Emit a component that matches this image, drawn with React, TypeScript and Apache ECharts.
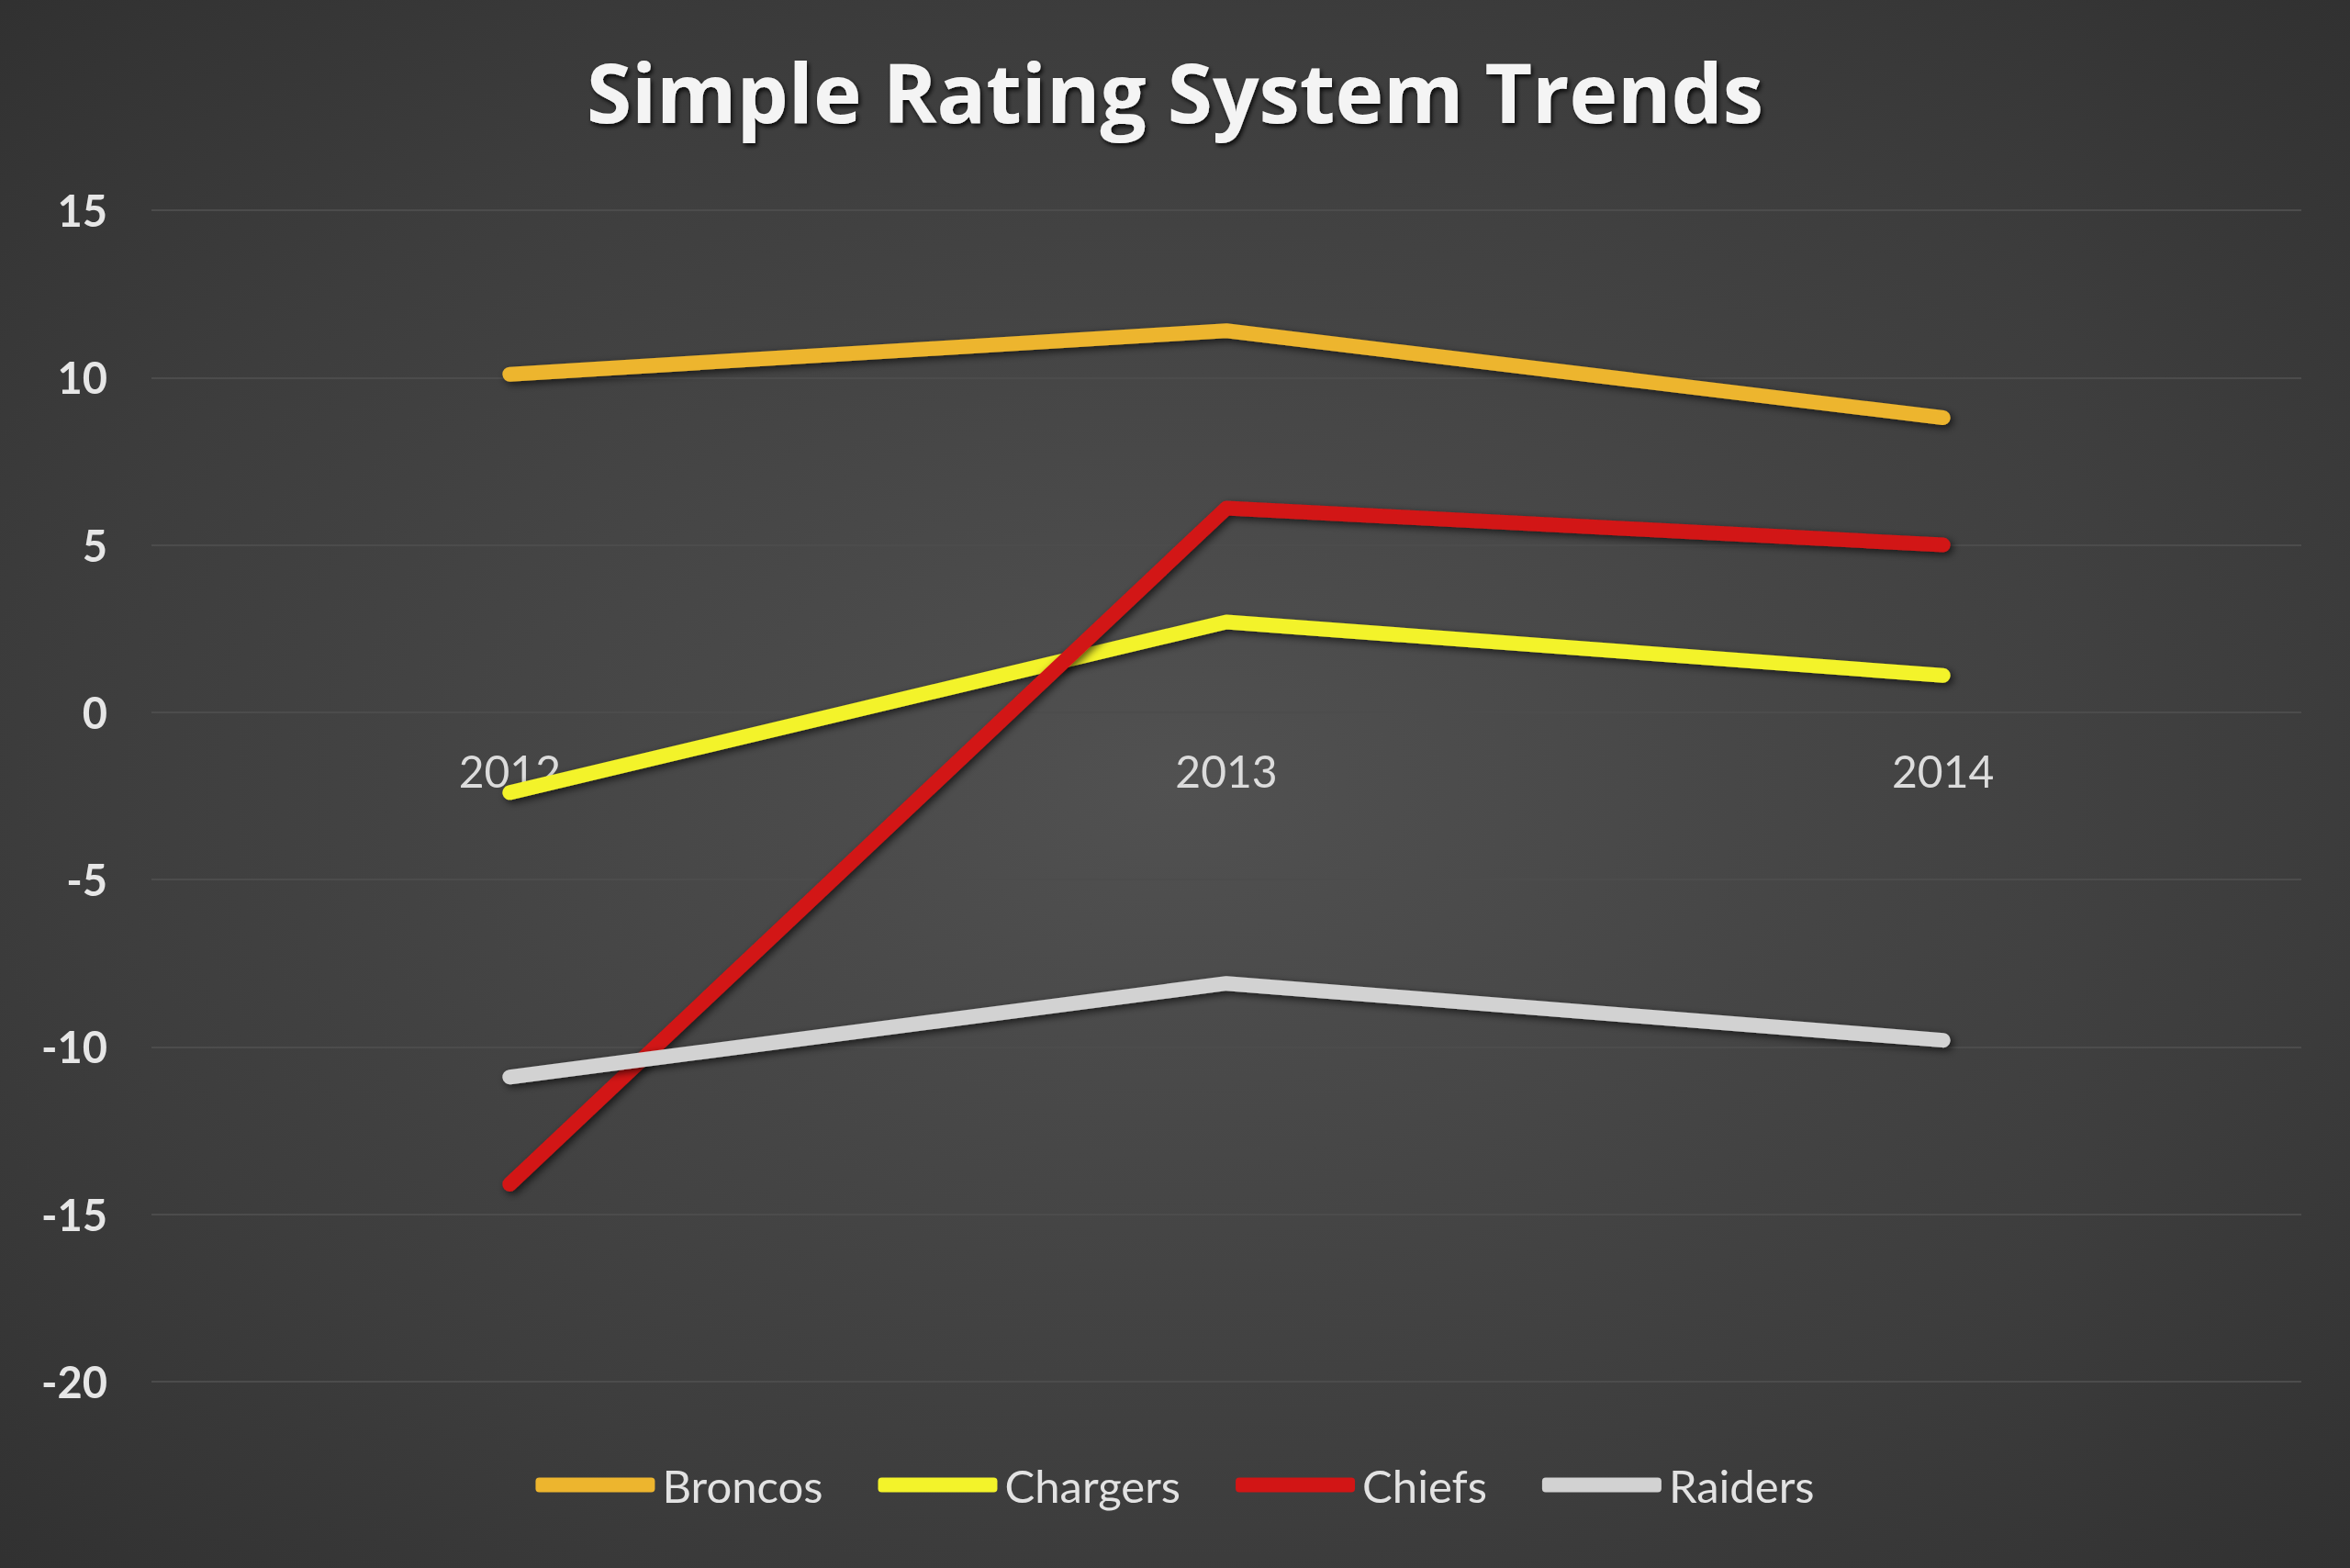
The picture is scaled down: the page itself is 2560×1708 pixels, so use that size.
import React, { useEffect, useRef } from "react";
import * as echarts from "echarts";

const years = ["2012", "2013", "2014"];
const broncos = [10.1, 11.4, 8.8];
const chargers = [-2.4, 2.7, 1.1];
const chiefs = [-14.1, 6.1, 5.0];
const raiders = [-10.9, -8.1, -9.8];

const seriesNames = ["Broncos", "Chargers", "Chiefs", "Raiders"];
const seriesColors = ["#EDB52E", "#F3F32A", "#D21515", "#D2D2D2"];
const seriesValues = [broncos, chargers, chiefs, raiders];

const yMin = -20;
const yMax = 15;
const yInterval = 5;

export default function App() {
  const ref = useRef<HTMLDivElement>(null);
  useEffect(() => {
    if (!ref.current) return;
    const chart = echarts.init(ref.current, null, { renderer: "svg" });
    const labelFont = "Lato, 'Open Sans', sans-serif";
    chart.setOption({
      animation: false,
      backgroundColor: {
        type: "radial",
        x: 0.5,
        y: 0.5,
        r: 0.95,
        colorStops: [
          { offset: 0, color: "#515151" },
          { offset: 0.5, color: "#3d3d3d" },
          { offset: 1, color: "#242424" },
        ],
      },
      title: {
        text: "Simple Rating System Trends",
        left: "center",
        top: 50,
        textStyle: {
          color: "#f4f4f4",
          fontSize: 89,
          fontWeight: "bold",
          fontFamily: "'Open Sans', 'DejaVu Sans', sans-serif",
          textShadowColor: "rgba(0,0,0,0.85)",
          textShadowBlur: 5,
          textShadowOffsetX: 2,
          textShadowOffsetY: 3,
        },
      },
      grid: {
        left: 165,
        right: 53,
        top: 229,
        bottom: 203,
        containLabel: false,
      },
      legend: {
        data: seriesNames,
        left: "center",
        top: 1588,
        itemWidth: 130,
        itemHeight: 16,
        itemGap: 60,
        icon: "roundRect",
        textStyle: {
          color: "#e2e2e2",
          fontSize: 49,
          fontFamily: labelFont,
          padding: [0, 0, 0, 3],
        },
      },
      xAxis: {
        type: "category",
        data: years,
        boundaryGap: true,
        axisLine: { show: false, onZero: false },
        axisTick: { show: false },
        axisLabel: {
          color: "#dcdcdc",
          fontSize: 48,
          fontFamily: labelFont,
          margin: 40,
        },
        splitLine: { show: false },
      },
      yAxis: {
        type: "value",
        min: yMin,
        max: yMax,
        interval: yInterval,
        axisLine: { show: false },
        axisTick: { show: false },
        axisLabel: {
          color: "#e6e6e6",
          fontSize: 47,
          fontWeight: "bold",
          fontFamily: labelFont,
          margin: 48,
        },
        splitLine: { lineStyle: { color: "#4c4c4c", width: 2 } },
      },
      series: seriesNames.map((name, i) => ({
        name,
        type: "line",
        data: seriesValues[i],
        showSymbol: false,
        symbol: "none",
        color: seriesColors[i],
        lineStyle: {
          color: seriesColors[i],
          width: 16,
          cap: "round",
          join: "round",
          shadowColor: "rgba(0,0,0,0.65)",
          shadowBlur: 8,
          shadowOffsetX: 3,
          shadowOffsetY: 3,
        },
      })),
    });
    // place the category axis on the value 0, using the library's own scale
    const zeroY = chart.convertToPixel({ yAxisIndex: 0 }, 0) as number;
    const bottomY = chart.convertToPixel({ yAxisIndex: 0 }, yMin) as number;
    if (isFinite(zeroY) && isFinite(bottomY)) {
      chart.setOption({ xAxis: { offset: zeroY - bottomY } });
    }
    return () => chart.dispose();
  }, []);
  return (
    <div
      ref={ref}
      style={{ position: "fixed", left: 0, top: 0, width: 2560, height: 1708 }}
    />
  );
}
